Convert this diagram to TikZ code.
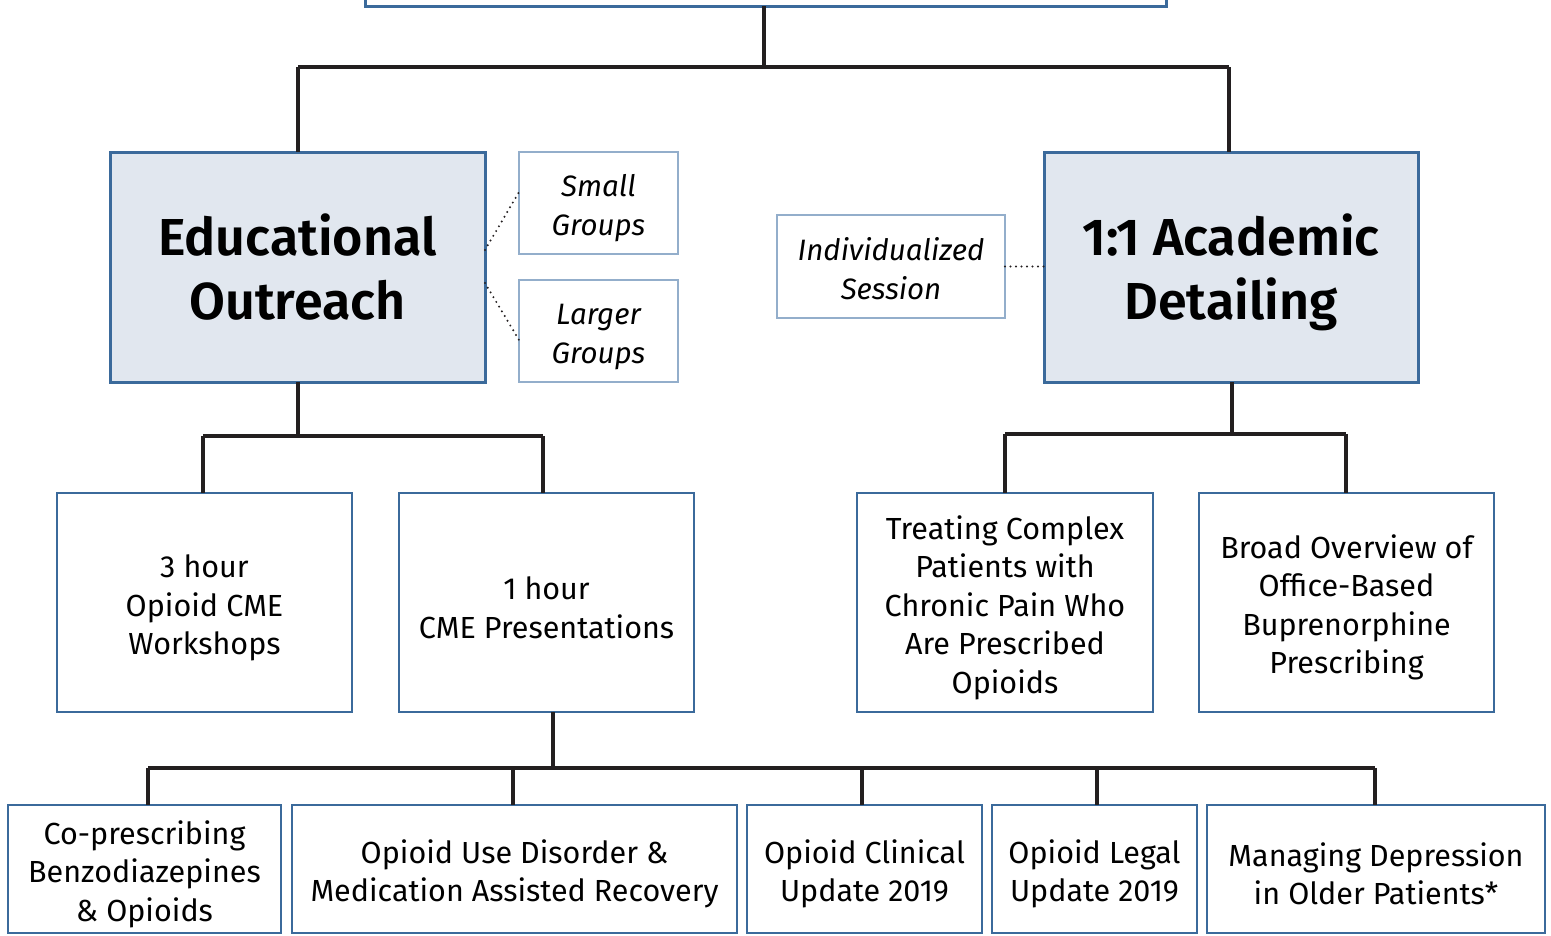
\documentclass[tikz,border=0pt]{standalone}
\usepackage{fontspec}
\setmainfont{Fira Sans}[BoldFont={Fira Sans SemiBold}]
\newcommand{\tpA}{\rule{0pt}{33.5pt}}
\newcommand{\tpB}{\rule{0pt}{31.5pt}}
\newcommand{\tpC}{\rule{0pt}{27.5pt}}
\newcommand{\nodp}[1]{\raisebox{0pt}[\height][0pt]{#1}}
\begin{document}
\begin{tikzpicture}[x=1pt,y=-1pt,
  every node/.style={inner sep=0pt, outer sep=0pt},
  mainbox/.style={draw=boxblue, fill=boxfill, line width=3pt, align=center, font=\fontsize{52}{64}\selectfont\bfseries},
  subbox/.style={draw=boxblue, fill=white, line width=2.8pt, align=center, font=\fontsize{30.5}{38.5}\selectfont},
  sidebox/.style={draw=lightblue, fill=white, line width=2.8pt, align=center, font=\fontsize{29.5}{39}\selectfont\itshape},
  conn/.style={draw=connc, line width=3.2pt},
  dots/.style={draw=connc, line width=2.2pt, line cap=round, dash pattern=on 0pt off 5.5pt}]
\definecolor{boxblue}{HTML}{3B6A9B}
\definecolor{boxfill}{HTML}{E1E7EF}
\definecolor{lightblue}{HTML}{93AECB}
\definecolor{connc}{HTML}{231F20}
\useasboundingbox (0,0) rectangle (1551,935);
\clip (0,0) rectangle (1551,935);
% top box (cut off)
\draw[draw=boxblue, line width=3pt] (365,-30) rectangle (1166,6);
\coordinate (topb) at (764,6);
% main boxes
\node[mainbox, minimum width=375pt, minimum height=230pt] (edu) at (297.5,267) {Educational\\Outreach};
\node[mainbox, minimum width=374pt, minimum height=230pt] (acad) at (1231,267) {1:1 Academic\\\nodp{Detailing}};
\node[sidebox, minimum width=159pt, minimum height=102pt] (small) at (598.5,203) {\tpB Small\\Groups};
\node[sidebox, minimum width=159pt, minimum height=102pt] (large) at (598.5,331) {\tpB Larger\\Groups};
\node[sidebox, minimum width=228pt, minimum height=103pt] (indiv) at (891,266.5) {\tpC Individualized\\Session};
% second level
\node[subbox, minimum width=295pt, minimum height=219pt] (three) at (204.5,602.5) {\tpA 3 hour\\Opioid CME\\Workshops};
\node[subbox, minimum width=295pt, minimum height=219pt] (one) at (546.5,602.5) {\tpA 1 hour\\CME Presentations};
\node[subbox, minimum width=296pt, minimum height=219pt] (treat) at (1005,602.5) {\tpA Treating Complex\\Patients with\\Chronic Pain Who\\Are Prescribed\\Opioids};
\node[subbox, minimum width=295pt, minimum height=219pt] (broad) at (1346.5,602.5) {\tpA Broad Overview of\\Office-Based\\Buprenorphine\\Prescribing};
% bottom level
\node[subbox, minimum width=273pt, minimum height=128pt] (cop) at (144.5,869) {\tpA Co-prescribing\\Benzodiazepines\\\& Opioids};
\node[subbox, minimum width=445pt, minimum height=128pt] (oud) at (514.5,869) {\tpA Opioid Use Disorder \&\\Medication Assisted Recovery};
\node[subbox, minimum width=235pt, minimum height=128pt] (clin) at (864.5,869) {\tpA Opioid Clinical\\Update 2019};
\node[subbox, minimum width=205pt, minimum height=128pt] (legal) at (1094.5,869) {\tpA Opioid Legal\\Update 2019};
\node[subbox, minimum width=338pt, minimum height=128pt] (mdep) at (1376,869) {\tpA Managing Depression\\in Older Patients*};
% connectors top
\draw[conn] (topb) -- (764,67);
\draw[conn] (298,67) -- (1229,67);
\draw[conn] (298,67) -- (edu.north -| 298,0);
\draw[conn] (1229,67) -- (acad.north -| 1229,0);
% dotted
\draw[dots] (edu.east |- 0,250) -- (small.west |- 0,192);
\draw[dots] (edu.east |- 0,283) -- (large.west |- 0,340);
\draw[dots] (indiv.east) -- (acad.west |- indiv.east);
% edu children
\draw[conn] (edu.south -| 298,0) -- (298,436);
\draw[conn] (203,436) -- (543,436);
\draw[conn] (203,436) -- (three.north -| 203,0);
\draw[conn] (543,436) -- (one.north -| 543,0);
% acad children
\draw[conn] (acad.south -| 1232,0) -- (1232,434);
\draw[conn] (1005,434) -- (1346,434);
\draw[conn] (1005,434) -- (treat.north -| 1005,0);
\draw[conn] (1346,434) -- (broad.north -| 1346,0);
% one hour children
\draw[conn] (one.south -| 553,0) -- (553,768);
\draw[conn] (148,768) -- (1375,768);
\draw[conn] (148,768) -- (cop.north -| 148,0);
\draw[conn] (513,768) -- (oud.north -| 513,0);
\draw[conn] (862,768) -- (clin.north -| 862,0);
\draw[conn] (1097,768) -- (legal.north -| 1097,0);
\draw[conn] (1375,768) -- (mdep.north -| 1375,0);
\end{tikzpicture}
\end{document}
